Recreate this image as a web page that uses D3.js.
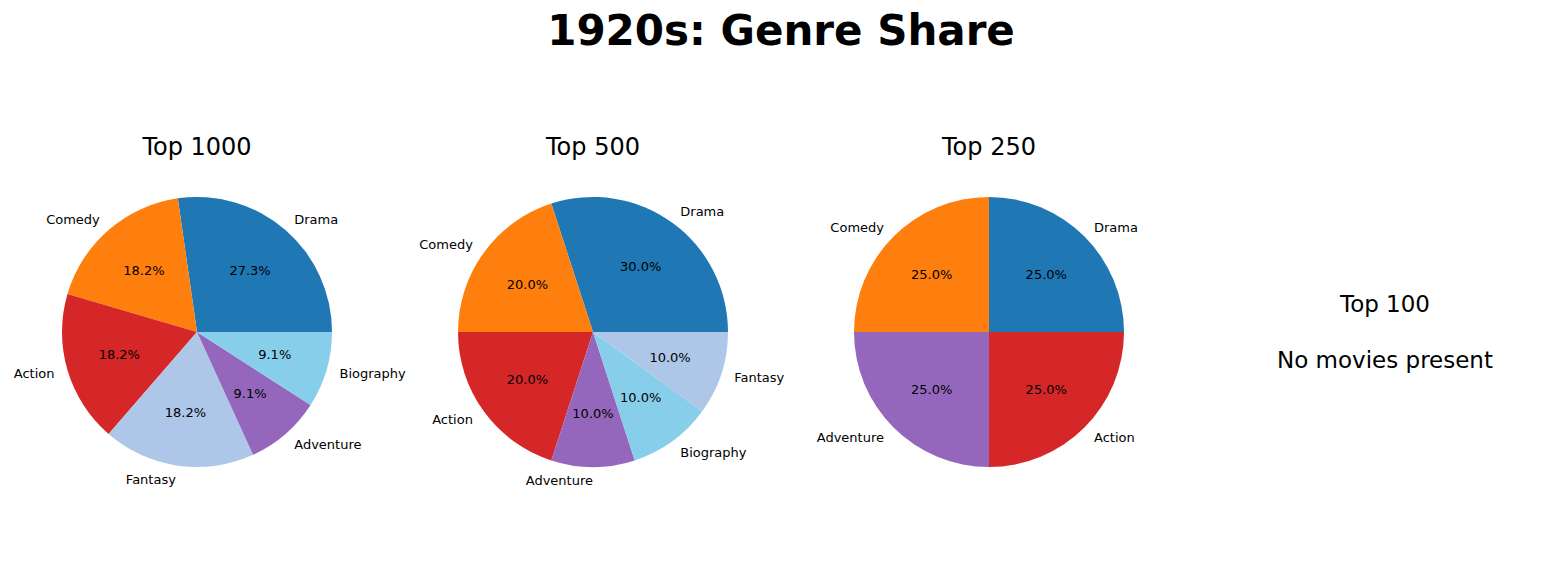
<!DOCTYPE html>
<html><head><meta charset="utf-8">
<script src="https://cdn.jsdelivr.net/npm/d3@7"></script>
<style>body{margin:0;background:#fff}text{font-family:"DejaVu Sans",sans-serif}</style>
</head><body><div id="chart"></div>
<script>
const colors = { Drama: '#1f77b4', Comedy: '#ff7f0e', Action: '#d62728', Fantasy: '#aec7e8', Adventure: '#9467bd', Biography: '#87ceeb' }

const top1000Genres = ['Drama', 'Comedy', 'Action', 'Fantasy', 'Adventure', 'Biography']
const top1000Counts = [3, 2, 2, 2, 1, 1]
const top500Genres = ['Drama', 'Comedy', 'Action', 'Adventure', 'Biography', 'Fantasy']
const top500Counts = [3, 2, 2, 1, 1, 1]
const top250Genres = ['Drama', 'Comedy', 'Adventure', 'Action']
const top250Counts = [1, 1, 1, 1]

const width = 1564, height = 575, radius = 135

const svg = d3.select('#chart').append('svg')
    .attr('width', width).attr('height', height)

svg.append('text').attr('x', 781).attr('y', 45).attr('text-anchor', 'middle')
    .attr('font-size', 42).attr('font-weight', 'bold').text('1920s: Genre Share')

function drawPie(cx, title, genres, counts) {
    const g = svg.append('g').attr('transform', 'translate(' + cx + ',332)')
    g.append('text').attr('y', -177).attr('text-anchor', 'middle')
        .attr('font-size', 24).text(title)
    const total = d3.sum(counts)
    // matplotlib style: counterclockwise from 3 o'clock
    const slices = d3.pie().sort(null).startAngle(0).endAngle(2 * Math.PI)(counts)
    const arc = d3.arc().innerRadius(0).outerRadius(radius)
    slices.forEach((s, i) => {
        const a0 = s.startAngle, a1 = s.endAngle
        g.append('path')
            .attr('d', arc({ startAngle: Math.PI / 2 - a1, endAngle: Math.PI / 2 - a0 }))
            .attr('fill', colors[genres[i]])
        const mid = (a0 + a1) / 2
        const cx1 = Math.cos(mid), sy = -Math.sin(mid)
        g.append('text').attr('x', cx1 * radius * 1.1).attr('y', sy * radius * 1.1)
            .attr('dy', '0.35em').attr('font-size', 13)
            .attr('text-anchor', cx1 > 0 ? 'start' : 'end').text(genres[i])
        g.append('text').attr('x', cx1 * radius * 0.6).attr('y', sy * radius * 0.6)
            .attr('dy', '0.35em').attr('font-size', 13).attr('text-anchor', 'middle')
            .text(d3.format('.1f')(counts[i] / total * 100) + '%')
    })
}

drawPie(197, 'Top 1000', top1000Genres, top1000Counts)
drawPie(593, 'Top 500', top500Genres, top500Counts)
drawPie(989, 'Top 250', top250Genres, top250Counts)

svg.append('text').attr('x', 1385).attr('y', 312).attr('text-anchor', 'middle')
    .attr('font-size', 23).text('Top 100')
svg.append('text').attr('x', 1385).attr('y', 368).attr('text-anchor', 'middle')
    .attr('font-size', 23).text('No movies present')
</script></body></html>
